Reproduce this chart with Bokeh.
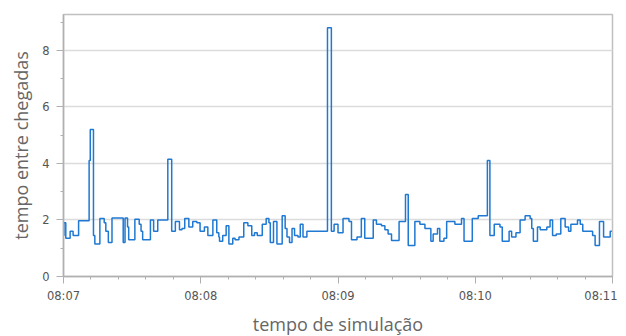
from datetime import datetime, timedelta
from bokeh.plotting import figure
from bokeh.models import FixedTicker, DatetimeTickFormatter, Range1d
from bokeh.embed import file_html
from bokeh.resources import INLINE

# --- data -------------------------------------------------------------
start_time = "08:07"          # first tick of the x axis
end_time = "08:11"            # last tick of the x axis
x_label = "tempo de simulação"
y_label = "tempo entre chegadas"
y_ticks = [0, 2, 4, 6, 8]

# seconds after 08:07 at which each step begins
seconds = [0.0, 0.2, 1.0, 2.9, 4.2, 6.6, 11.2, 11.7, 13.1, 13.7,
           15.9, 17.8, 18.5, 19.6, 21.2, 26.1, 26.9, 28.0, 28.5, 31.2,
           33.1, 33.9, 34.6, 38.0, 39.4, 41.2, 45.6, 47.3, 48.9, 50.7,
           51.8, 53.0, 54.8, 56.5, 58.3, 59.7, 61.6, 63.1, 65.3, 67.0,
           67.9, 68.2, 69.6, 71.1, 72.3, 74.0, 75.0, 76.7, 78.8, 80.6,
           82.3, 83.5, 84.7, 86.9, 88.6, 89.8, 90.4, 91.8, 93.3, 95.6,
           96.9, 97.7, 98.8, 99.9, 101.0, 102.5, 103.5, 104.7, 106.4, 115.4,
           117.1, 118.3, 120.0, 122.2, 124.8, 125.9, 128.3, 130.2, 131.7, 135.4,
           136.8, 139.0, 140.5, 141.9, 143.4, 146.7, 149.5, 150.7, 153.6, 155.8,
           158.0, 160.6, 161.6, 163.5, 164.5, 166.3, 167.5, 171.1, 174.0, 175.1,
           178.7, 181.3, 185.3, 186.4, 188.3, 190.8, 191.8, 194.8, 195.9, 197.8,
           199.6, 201.8, 204.0, 204.7, 205.4, 207.2, 208.4, 211.3, 212.7, 213.8,
           215.4, 217.4, 219.3, 220.8, 221.8, 224.7, 225.9, 227.0, 231.3, 232.4,
           234.3, 236.1, 239.0, 239.7]

# inter-arrival time value of each step
values = [1.45, 1.9, 1.35, 1.6, 1.45, 1.97, 4.1, 5.2, 1.45, 1.15,
          2.05, 1.9, 1.6, 1.2, 2.07, 1.2, 2.07, 1.75, 1.3, 2.03,
          1.85, 1.6, 1.3, 2.0, 1.6, 2.0, 4.15, 1.6, 1.95, 1.65,
          1.7, 2.05, 1.75, 1.95, 1.9, 1.6, 1.75, 1.45, 2.0, 1.55,
          1.4, 1.25, 1.45, 1.8, 1.15, 1.35, 1.3, 1.4, 1.9, 1.8,
          1.45, 1.55, 1.45, 1.85, 2.05, 1.9, 1.2, 1.95, 1.15, 2.15,
          1.7, 1.4, 1.2, 1.7, 1.45, 1.4, 1.85, 1.4, 1.6, 8.8,
          1.6, 1.85, 1.55, 2.05, 1.95, 1.3, 1.4, 2.05, 1.35, 2.0,
          1.85, 1.8, 1.65, 1.5, 1.27, 1.95, 2.9, 1.1, 1.95, 1.85,
          1.7, 1.25, 1.5, 1.7, 1.25, 1.35, 1.95, 1.85, 2.05, 1.25,
          2.05, 2.15, 4.1, 1.45, 1.85, 1.75, 1.25, 1.6, 1.4, 1.55,
          2.0, 2.15, 2.05, 1.7, 1.25, 1.75, 1.65, 1.75, 2.0, 1.45,
          1.5, 2.05, 1.75, 1.6, 1.85, 2.0, 1.85, 1.6, 1.45, 1.1,
          1.95, 1.4, 1.6, 1.6]

# --- build ------------------------------------------------------------
EPOCH = datetime(1970, 1, 1)
day = datetime(2020, 1, 1)
h0, m0 = map(int, start_time.split(":"))
h1, m1 = map(int, end_time.split(":"))
t0 = day.replace(hour=h0, minute=m0)
t1 = day.replace(hour=h1, minute=m1)


def ms(dt):
    return (dt - EPOCH).total_seconds() * 1000.0


xs = [t0 + timedelta(seconds=s) for s in seconds]

p = figure(frame_width=549, frame_height=262, x_axis_type="datetime",
           output_backend="svg", toolbar_location=None,
           x_range=Range1d(t0, t1), y_range=Range1d(0, 9.27),
           min_border_left=63, min_border_right=5,
           min_border_top=14, min_border_bottom=10)

p.step(xs, values, mode="after", line_color="#1f78d1", line_width=1.5)

n_min = int((t1 - t0).total_seconds() // 60)
major = [ms(t0 + timedelta(minutes=i)) for i in range(n_min + 1)]
minor = [ms(t0 + timedelta(seconds=12 * i)) for i in range(n_min * 5 + 1)]
p.xaxis.ticker = FixedTicker(ticks=major, minor_ticks=minor)
fmt = "%H:%M"
p.xaxis.formatter = DatetimeTickFormatter(seconds=fmt, minsec=fmt, minutes=fmt,
                                          hourmin=fmt, hours=fmt)
p.yaxis.ticker = FixedTicker(ticks=y_ticks, minor_ticks=list(range(0, 10)))

p.xaxis.axis_label = x_label
p.yaxis.axis_label = y_label

for ax in (p.xaxis, p.yaxis):
    ax.axis_label_text_font = "Open Sans"
    ax.axis_label_text_font_size = "18px"
    ax.axis_label_text_font_style = "normal"
    ax.axis_label_text_color = "#666666"
    ax.major_label_text_font = "DejaVu Sans"
    ax.major_label_text_font_size = "11.5px"
    ax.major_label_text_color = "#555555"
    ax.axis_line_color = "#b0b0b0"
    ax.axis_line_width = 1.5
    ax.major_tick_line_color = "#b0b0b0"
    ax.minor_tick_line_color = "#b0b0b0"
    ax.major_tick_out = 7
    ax.major_tick_in = 0
    ax.minor_tick_out = 3
    ax.minor_tick_in = 0

p.xaxis.major_label_standoff = 5
p.xaxis.axis_label_standoff = 6
p.yaxis.major_label_standoff = 7
p.yaxis.axis_label_standoff = 6

p.xgrid.visible = False
p.ygrid.grid_line_color = "#dcdcdc"
p.ygrid.grid_line_width = 1.5

p.outline_line_color = "#c0c0c0"
p.outline_line_width = 1.5
p.background_fill_color = "white"
p.border_fill_color = "white"

open("out.html", "w").write(file_html(p, INLINE))
